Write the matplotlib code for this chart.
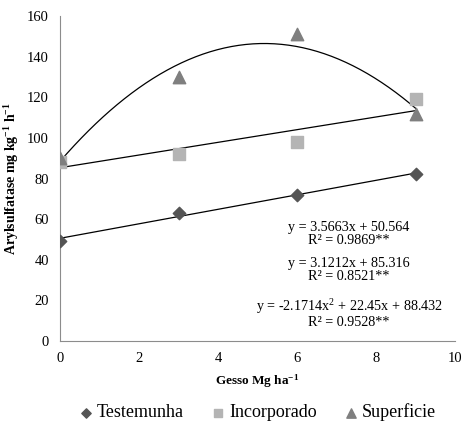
import numpy as np
import matplotlib.pyplot as plt

plt.rcParams['font.family'] = ['Liberation Serif', 'DejaVu Serif']
plt.rcParams['mathtext.fontset'] = 'custom'
plt.rcParams['mathtext.rm'] = 'Liberation Serif'
plt.rcParams['mathtext.bf'] = 'Liberation Serif:bold'
plt.rcParams['mathtext.default'] = 'regular'

doses = [0, 3, 6, 9]
testemunha = [49, 63, 72, 82]
incorporado = [88, 92, 98, 119]
superficie = [90, 130, 151, 112]

# fitted coefficients (highest power first), as printed on the chart
fit_test = [3.5663, 50.564]
fit_inc = [3.1212, 85.316]
fit_sup = [-2.1714, 22.45, 88.432]

eq_text = ["y = 3.5663x + 50.564\nR² = 0.9869**",
           "y = 3.1212x + 85.316\nR² = 0.8521**",
           "y = -2.1714x$^{2}$ + 22.45x + 88.432\nR² = 0.9528**"]

fig = plt.figure(figsize=(4.63, 4.25), dpi=100)
ax = fig.add_axes([60/463, 1 - 341/425, 395/463, 325/425])

xs = np.linspace(0, 9, 200)
for coef in (fit_test, fit_inc, fit_sup):
    ax.plot(xs, np.polyval(coef, xs), color='black', lw=0.9, zorder=2)

ax.scatter(doses, testemunha, marker='D', s=40, color='#555555', label='Testemunha', zorder=3)
ax.scatter(doses, incorporado, marker='s', s=70, color='#b4b4b4', label='Incorporado', zorder=3)
ax.scatter(doses, superficie, marker='^', s=80, color='#7f7f7f', label='Superficie', zorder=3)

for txt, yy in zip(eq_text, [52.5, 35.0, 14.0]):
    ax.text(7.32, yy, txt, ha='center', va='center', fontsize=10.2,
            linespacing=1.0, multialignment='center')

ax.set_xlim(0, 10)
ax.set_ylim(0, 160)
ax.set_xticks([0, 2, 4, 6, 8, 10])
ax.set_yticks(range(0, 161, 20))
ax.tick_params(length=0, labelsize=10.5, pad=8)
for s in ('top', 'right'):
    ax.spines[s].set_visible(False)
for s in ('left', 'bottom'):
    ax.spines[s].set_color('#8c8c8c')
    ax.spines[s].set_linewidth(0.8)

ax.set_xlabel('Gesso Mg ha$^{-1}$', fontsize=9.5, fontweight='bold', labelpad=5)
ax.set_ylabel('Arylsulfatase mg kg$^{-1}$ h$^{-1}$', fontsize=10, fontweight='bold', labelpad=4)

ax.legend(loc='center', bbox_to_anchor=(0.5, -0.22), ncol=3, frameon=False,
          fontsize=13, handlelength=0.8, handletextpad=0.2, columnspacing=1.5,
          borderaxespad=0, markerscale=0.75)

fig.savefig('out.png', dpi=100)
